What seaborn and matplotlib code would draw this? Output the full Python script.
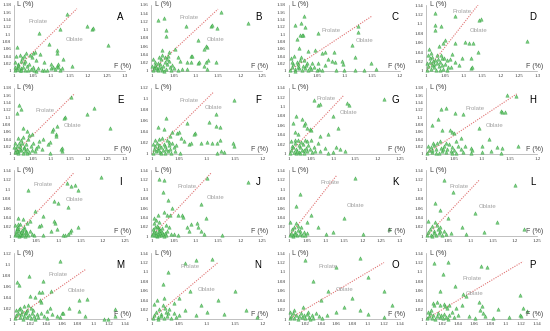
import matplotlib
matplotlib.use('Agg')
import matplotlib.pyplot as plt
import seaborn as sns
import pandas as pd
import numpy as np

sns.set_style('white')
plt.rcParams['font.family'] = ['Liberation Sans', 'DejaVu Sans']

PANELS = list('ABCDEFGHIJKLMNOP')
X_MAX = [1.3, 1.25, 1.2, 1.3, 1.3, 1.2, 1.25, 1.2, 1.25, 1.25, 1.3, 1.25, 1.14, 1.2, 1.14, 1.14]
Y_MAX = [1.18, 1.16, 1.18, 1.14, 1.18, 1.12, 1.14, 1.18, 1.14, 1.14, 1.14, 1.14, 1.12, 1.14, 1.14, 1.14]
X_STEP = [0.05, 0.05, 0.05, 0.05, 0.05, 0.05, 0.05, 0.05, 0.05, 0.05, 0.05, 0.05, 0.02, 0.05, 0.02, 0.02]
Y_STEP = 0.02
LINE_END = [1.17, 1.15, 1.15, 1.14, 1.162, 1.112, 1.124, 1.163, 1.134, 1.135, 1.13, 1.12, 1.091, 1.12, 1.12, 1.122]

PTS_A = [(1.142,1.155),(1.123,1.115),(1.198,1.123),(1.21,1.115),(1.214,1.116),(1.068,1.105),(1.095,1.075),(1.253,1.071),(1.007,1.066),(1.117,1.057),(1.116,1.048),(1.057,1.053),(1.07,1.046),(1.133,1.032),(1.082,1.025),(1.158,1.014),
(1.004,1.002),(1.008,1.005),(1.012,1.01),(1.015,1.003),(1.02,1.008),(1.025,1.012),(1.03,1.004),(1.035,1.015),(1.04,1.02),(1.045,1.006),(1.05,1.01),(1.055,1.002),(1.01,1.02),(1.018,1.028),(1.022,1.035),(1.028,1.042),(1.033,1.05),(1.042,1.045),(1.048,1.038),(1.052,1.05),(1.06,1.03),(1.006,1.04),(1.015,1.045),(1.003,1.012),(1.026,1.022),(1.038,1.003),(1.06,1.001),(1.065,1.008),(1.002,1.025),(1.012,1.016),(1.03,1.026),(1.02,1.002),
(1.09,1.003),(1.1,1.008),(1.105,1.012),(1.11,1.005),(1.115,1.015),(1.12,1.01),(1.125,1.003),(1.13,1.008),(1.075,1.004),(1.08,1.002),(1.118,1.02),(1.1,1.018)]

PTS_B = [(1.156,1.144),(1.015,1.124),(1.029,1.128),(1.032,1.099),(1.032,1.085),(1.077,1.109),(1.135,1.108),(1.137,1.112),(1.147,1.105),(1.218,1.116),(1.105,1.074),(1.124,1.061),(1.126,1.059),(1.119,1.053),(1.053,1.053),(1.025,1.051),(1.04,1.047),(1.089,1.036),(1.092,1.036),(1.059,1.035),(1.065,1.024),(1.081,1.023),(1.089,1.022),(1.104,1.02),(1.107,1.023),(1.122,1.023),(1.128,1.027),(1.145,1.023),(1.119,1.011),(1.126,1.006),(1.081,1.006),(1.07,1.004),(1.059,1.002),
(1.003,1.002),(1.006,1.008),(1.009,1.015),(1.012,1.004),(1.015,1.02),(1.018,1.01),(1.021,1.028),(1.024,1.003),(1.027,1.013),(1.03,1.033),(1.033,1.006),(1.036,1.018),(1.039,1.025),(1.004,1.03),(1.008,1.022),(1.016,1.035),(1.02,1.016),(1.025,1.04),(1.03,1.022),(1.035,1.03),(1.042,1.01),(1.045,1.003),(1.01,1.01),(1.014,1.002),(1.022,1.007),(1.028,1.001),(1.001,1.012),(1.038,1.037),(1.047,1.015),(1.05,1.008)]

PTS_C = [(1.027,1.151),(1.011,1.125),(1.022,1.132),(1.029,1.119),(1.02,1.098),(1.026,1.098),(1.023,1.097),(1.014,1.086),(1.053,1.103),(1.125,1.124),(1.124,1.107),(1.113,1.071),(1.018,1.062),(1.035,1.055),(1.047,1.057),(1.065,1.053),(1.082,1.053),(1.059,1.048),(1.119,1.037),(1.149,1.023),(1.158,1.005),(1.136,1.003),(1.119,1.003),(1.071,1.032),(1.077,1.028),(1.083,1.025),(1.095,1.028),(1.098,1.019),(1.041,1.023),(1.053,1.021),(1.065,1.016),
(1.002,1.003),(1.005,1.01),(1.008,1.018),(1.011,1.005),(1.014,1.025),(1.017,1.012),(1.02,1.03),(1.023,1.004),(1.026,1.015),(1.029,1.008),(1.032,1.022),(1.035,1.002),(1.038,1.012),(1.004,1.035),(1.01,1.04),(1.016,1.02),(1.022,1.038),(1.028,1.03),(1.04,1.005),(1.045,1.01),(1.05,1.003),(1.012,1.001),(1.019,1.008),(1.031,1.017),(1.006,1.025),(1.055,1.006),(1.085,1.003),(1.1,1.002),(1.06,1.002)]

PTS_D = [(1.025,1.122),(1.077,1.117),(1.142,1.108),(1.147,1.11),(1.025,1.098),(1.023,1.087),(1.041,1.096),(1.05,1.066),(1.045,1.059),(1.079,1.059),(1.106,1.062),(1.115,1.06),(1.126,1.059),(1.273,1.064),(1.139,1.041),(1.007,1.047),(1.034,1.052),(1.07,1.037),(1.097,1.027),(1.12,1.027),(1.079,1.02),(1.088,1.013),(1.057,1.023),(1.12,1.006),(1.124,1.009),(1.068,1.009),
(1.003,1.002),(1.006,1.01),(1.01,1.02),(1.013,1.005),(1.016,1.03),(1.02,1.014),(1.024,1.024),(1.027,1.003),(1.03,1.033),(1.034,1.01),(1.038,1.02),(1.042,1.028),(1.046,1.005),(1.05,1.015),(1.055,1.002),(1.005,1.035),(1.012,1.038),(1.018,1.022),(1.022,1.008),(1.028,1.016),(1.032,1.026),(1.036,1.002),(1.04,1.035),(1.044,1.012),(1.048,1.028),(1.06,1.008),(1.002,1.018),(1.009,1.028),(1.015,1.013),(1.065,1.025)]

PTS_E = [(1.154,1.155),(1.014,1.132),(1.018,1.121),(1.009,1.112),(1.216,1.125),(1.198,1.109),(1.139,1.1),(1.136,1.097),(1.259,1.071),(1.115,1.075),(1.106,1.066),(1.104,1.062),(1.114,1.053),(1.113,1.048),(1.023,1.069),(1.034,1.062),(1.048,1.053),(1.041,1.05),(1.079,1.039),(1.068,1.035),(1.097,1.032),(1.093,1.027),(1.066,1.021),(1.077,1.014),(1.097,1.003),(1.129,1.016),(1.131,1.007),(1.127,1.012),
(1.002,1.004),(1.005,1.012),(1.008,1.02),(1.011,1.006),(1.014,1.028),(1.017,1.014),(1.02,1.036),(1.023,1.002),(1.026,1.018),(1.029,1.008),(1.032,1.026),(1.035,1.012),(1.038,1.04),(1.041,1.004),(1.045,1.022),(1.004,1.03),(1.01,1.042),(1.016,1.022),(1.022,1.03),(1.028,1.016),(1.034,1.002),(1.048,1.01),(1.052,1.028),(1.056,1.006),(1.012,1.001),(1.019,1.009),(1.025,1.045),(1.06,1.016),(1.001,1.018),(1.007,1.008)]

PTS_F = [(1.149,1.098),(1.116,1.072),(1.104,1.058),(1.116,1.05),(1.123,1.048),(1.026,1.065),(1.064,1.055),(1.012,1.048),(1.022,1.044),(1.038,1.039),(1.046,1.038),(1.05,1.039),(1.078,1.038),(1.076,1.035),(1.034,1.032),(1.053,1.029),(1.059,1.023),(1.068,1.017),(1.071,1.02),(1.089,1.02),(1.101,1.021),(1.11,1.019),(1.119,1.02),(1.124,1.025),(1.147,1.02),(1.149,1.014),(1.125,1.005),(1.13,1.003),(1.118,1.002),(1.052,1.002),
(1.002,1.002),(1.004,1.008),(1.006,1.014),(1.008,1.004),(1.01,1.02),(1.012,1.01),(1.014,1.026),(1.016,1.003),(1.018,1.012),(1.02,1.006),(1.022,1.018),(1.024,1.001),(1.026,1.009),(1.028,1.024),(1.03,1.004),(1.032,1.015),(1.034,1.008),(1.036,1.002),(1.038,1.02),(1.04,1.012),(1.003,1.018),(1.007,1.024),(1.013,1.016),(1.019,1.028),(1.025,1.014),(1.031,1.022),(1.042,1.005),(1.045,1.016),(1.011,1.006),(1.017,1.001)]

PTS_G = [(1.214,1.117),(1.056,1.114),(1.066,1.103),(1.071,1.105),(1.13,1.107),(1.135,1.103),(1.1,1.08),(1.111,1.055),(1.017,1.08),(1.01,1.066),(1.029,1.073),(1.036,1.066),(1.035,1.06),(1.04,1.055),(1.047,1.053),(1.05,1.05),(1.014,1.045),(1.021,1.041),(1.089,1.041),(1.071,1.037),(1.036,1.03),(1.051,1.029),(1.065,1.023),(1.081,1.013),(1.107,1.015),(1.115,1.009),(1.126,1.006),(1.1,1.004),(1.089,1.002),
(1.002,1.002),(1.005,1.008),(1.008,1.016),(1.011,1.004),(1.014,1.022),(1.017,1.01),(1.02,1.028),(1.023,1.003),(1.026,1.014),(1.029,1.007),(1.032,1.02),(1.035,1.001),(1.038,1.012),(1.041,1.005),(1.044,1.018),(1.047,1.009),(1.004,1.026),(1.01,1.014),(1.016,1.002),(1.022,1.018),(1.028,1.024),(1.034,1.008),(1.04,1.026),(1.052,1.003),(1.056,1.014),(1.06,1.006),(1.013,1.03),(1.019,1.006),(1.025,1.001),(1.07,1.005)]

PTS_H = [(1.145,1.16),(1.162,1.157),(1.036,1.125),(1.026,1.121),(1.052,1.112),(1.066,1.109),(1.134,1.116),(1.137,1.115),(1.142,1.114),(1.022,1.094),(1.01,1.078),(1.095,1.069),(1.028,1.065),(1.042,1.065),(1.047,1.06),(1.05,1.057),(1.062,1.044),(1.053,1.035),(1.113,1.039),(1.166,1.021),(1.137,1.016),(1.128,1.018),(1.101,1.021),(1.08,1.016),(1.083,1.01),(1.116,1.007),(1.134,1.003),(1.101,1.005),(1.08,1.003),
(1.002,1.003),(1.005,1.01),(1.008,1.018),(1.011,1.005),(1.014,1.024),(1.017,1.012),(1.02,1.028),(1.023,1.002),(1.026,1.016),(1.029,1.008),(1.032,1.022),(1.035,1.004),(1.038,1.014),(1.041,1.026),(1.044,1.006),(1.047,1.018),(1.05,1.01),(1.054,1.002),(1.058,1.022),(1.004,1.02),(1.012,1.03),(1.018,1.002),(1.024,1.034),(1.03,1.014),(1.036,1.03),(1.046,1.001),(1.062,1.012),(1.066,1.004),(1.07,1.02),(1.01,1.009)]

PTS_I = [(1.195,1.126),(1.119,1.114),(1.128,1.107),(1.137,1.108),(1.145,1.099),(1.031,1.098),(1.09,1.076),(1.1,1.071),(1.122,1.062),(1.047,1.053),(1.066,1.044),(1.01,1.039),(1.021,1.036),(1.036,1.032),(1.029,1.029),(1.089,1.032),(1.092,1.029),(1.056,1.023),(1.06,1.025),(1.145,1.021),(1.096,1.016),(1.084,1.011),(1.128,1.013),(1.126,1.009),(1.122,1.006),(1.111,1.004),(1.115,1.002),(1.066,1.002),(1.044,1.004),
(1.002,1.002),(1.004,1.008),(1.006,1.015),(1.008,1.004),(1.01,1.02),(1.012,1.011),(1.014,1.026),(1.016,1.003),(1.018,1.014),(1.02,1.007),(1.022,1.02),(1.024,1.001),(1.026,1.012),(1.028,1.005),(1.003,1.024),(1.007,1.018),(1.011,1.001),(1.015,1.009),(1.019,1.002),(1.023,1.016),(1.027,1.01),(1.032,1.002),(1.036,1.012),(1.04,1.006),(1.005,1.012),(1.009,1.027),(1.013,1.006)]

PTS_J = [(1.017,1.121),(1.029,1.119),(1.125,1.124),(1.218,1.115),(1.027,1.095),(1.038,1.078),(1.047,1.06),(1.111,1.069),(1.122,1.04),(1.006,1.04),(1.01,1.034),(1.036,1.045),(1.041,1.045),(1.059,1.046),(1.068,1.045),(1.072,1.042),(1.014,1.045),(1.029,1.052),(1.089,1.027),(1.102,1.029),(1.081,1.021),(1.085,1.011),(1.104,1.019),(1.111,1.011),(1.119,1.006),(1.158,1.004),(1.051,1.006),(1.059,1.002),(1.014,1.02),(1.016,1.016),(1.012,1.023),
(1.002,1.002),(1.004,1.007),(1.006,1.012),(1.008,1.003),(1.01,1.009),(1.012,1.001),(1.014,1.006),(1.016,1.011),(1.018,1.004),(1.02,1.008),(1.022,1.002),(1.024,1.01),(1.026,1.005),(1.028,1.001),(1.03,1.008),(1.003,1.015),(1.007,1.02),(1.011,1.004),(1.02,1.014),(1.025,1.018),(1.032,1.003),(1.036,1.012),(1.04,1.02),(1.045,1.005),(1.005,1.028),(1.018,1.03),(1.034,1.025)]

PTS_K = [(1.178,1.123),(1.03,1.09),(1.02,1.065),(1.15,1.04),(1.27,1.015),(1.08,1.02),(1.12,1.01),(1.05,1.03),(1.1,1.005),(1.2,1.005),(1.06,1.045),
(1.002,1.002),(1.005,1.008),(1.008,1.015),(1.011,1.004),(1.014,1.02),(1.017,1.01),(1.02,1.028),(1.023,1.003),(1.026,1.014),(1.029,1.006),(1.032,1.02),(1.035,1.002),(1.04,1.01),(1.045,1.004),(1.004,1.03),(1.012,1.001),(1.018,1.006),(1.024,1.022),(1.03,1.012),(1.05,1.008)]

PTS_L = [(1.04,1.12),(1.06,1.095),(1.2,1.11),(1.02,1.07),(1.11,1.05),(1.16,1.03),(1.08,1.02),(1.13,1.01),(1.05,1.04),(1.09,1.005),(1.22,1.015),(1.03,1.055),
(1.002,1.002),(1.005,1.009),(1.008,1.016),(1.011,1.004),(1.014,1.022),(1.017,1.011),(1.02,1.03),(1.023,1.002),(1.026,1.015),(1.029,1.007),(1.032,1.021),(1.035,1.003),(1.04,1.012),(1.045,1.005),(1.004,1.032),(1.012,1.001),(1.018,1.007),(1.024,1.024),(1.03,1.012),(1.055,1.008)]

PTS_M = [(1.058,1.105),(1.019,1.078),(1.036,1.07),(1.004,1.067),(1.006,1.062),(1.031,1.05),(1.035,1.05),(1.047,1.052),(1.026,1.041),(1.02,1.042),(1.033,1.034),(1.034,1.032),(1.082,1.035),(1.092,1.036),(1.069,1.021),(1.082,1.014),(1.089,1.005),(1.127,1.018),(1.127,1.006),(1.113,1.001),(1.119,1.001),(1.06,1.011),(1.062,1.012),(1.058,1.003),(1.054,1.005),(1.045,1.021),(1.041,1.014),(1.008,1.02),(1.012,1.023),(1.016,1.017),(1.01,1.014),(1.014,1.011),(1.022,1.02),
(1.001,1.002),(1.003,1.007),(1.005,1.012),(1.007,1.003),(1.009,1.009),(1.011,1.001),(1.013,1.006),(1.015,1.013),(1.017,1.004),(1.019,1.008),(1.021,1.002),(1.023,1.011),(1.025,1.005),(1.027,1.001),(1.029,1.009),(1.002,1.016),(1.006,1.019),(1.018,1.026),(1.024,1.016),(1.03,1.003),(1.034,1.012),(1.038,1.006),(1.042,1.002),(1.048,1.009)]

PTS_N = [(1.06,1.12),(1.08,1.125),(1.11,1.128),(1.03,1.1),(1.02,1.075),(1.07,1.06),(1.15,1.06),(1.12,1.04),(1.17,1.02),(1.05,1.045),(1.09,1.03),(1.1,1.015),(1.13,1.01),(1.04,1.035),(1.19,1.005),(1.06,1.02),(1.08,1.008),
(1.002,1.002),(1.005,1.009),(1.008,1.016),(1.011,1.004),(1.014,1.022),(1.017,1.011),(1.02,1.03),(1.023,1.002),(1.026,1.015),(1.029,1.007),(1.032,1.021),(1.035,1.003),(1.04,1.012),(1.045,1.005),(1.004,1.032),(1.012,1.001),(1.018,1.007),(1.024,1.024),(1.03,1.012),(1.05,1.008),(1.01,1.04),(1.022,1.045)]

PTS_O = [(1.02,1.125),(1.09,1.13),(1.06,1.11),(1.1,1.09),(1.12,1.06),(1.03,1.08),(1.05,1.06),(1.08,1.045),(1.13,1.03),(1.07,1.025),(1.1,1.01),(1.12,1.005),(1.04,1.04),(1.06,1.015),(1.09,1.02),
(1.001,1.002),(1.003,1.007),(1.005,1.012),(1.007,1.003),(1.009,1.009),(1.011,1.001),(1.013,1.006),(1.015,1.013),(1.017,1.004),(1.019,1.008),(1.021,1.002),(1.023,1.011),(1.025,1.005),(1.027,1.001),(1.029,1.009),(1.002,1.016),(1.006,1.02),(1.018,1.026),(1.024,1.016),(1.03,1.003),(1.034,1.012),(1.038,1.006),(1.042,1.002),(1.048,1.009)]

PTS_P = [(1.01,1.119),(1.028,1.122),(1.021,1.096),(1.069,1.112),(1.077,1.11),(1.036,1.071),(1.018,1.059),(1.046,1.054),(1.05,1.048),(1.066,1.037),(1.118,1.051),(1.008,1.034),(1.01,1.03),(1.014,1.037),(1.018,1.029),(1.022,1.032),(1.024,1.027),(1.029,1.03),(1.026,1.023),(1.045,1.029),(1.037,1.023),(1.071,1.027),(1.068,1.02),(1.072,1.013),(1.074,1.006),(1.091,1.021),(1.062,1.002),(1.054,1.006),(1.084,1.002),(1.104,1.004),(1.122,1.023),(1.127,1.018),(1.118,1.009),(1.12,1.006),
(1.001,1.002),(1.003,1.007),(1.005,1.012),(1.007,1.003),(1.009,1.009),(1.011,1.001),(1.013,1.006),(1.015,1.013),(1.017,1.004),(1.019,1.008),(1.021,1.002),(1.023,1.011),(1.025,1.005),(1.027,1.001),(1.029,1.009),(1.002,1.016),(1.006,1.02),(1.032,1.014),(1.035,1.004),(1.04,1.009)]

ALL_PTS = [PTS_A, PTS_B, PTS_C, PTS_D, PTS_E, PTS_F, PTS_G, PTS_H,
           PTS_I, PTS_J, PTS_K, PTS_L, PTS_M, PTS_N, PTS_O, PTS_P]

# label positions (axes fraction)
PROLATE_POS = [(0.22,0.75),(0.34,0.81),(0.38,0.62),(0.32,0.90),(0.28,0.66),(0.34,0.81),(0.34,0.83),(0.44,0.68),
               (0.26,0.79),(0.32,0.76),(0.37,0.82),(0.30,0.75),(0.40,0.67),(0.35,0.80),(0.35,0.80),(0.41,0.61)]
OBLATE_POS = [(0.55,0.48),(0.58,0.48),(0.68,0.46),(0.47,0.62),(0.53,0.43),(0.56,0.70),(0.54,0.63),(0.62,0.43),
              (0.55,0.56),(0.58,0.59),(0.60,0.47),(0.55,0.45),(0.56,0.43),(0.50,0.45),(0.50,0.45),(0.44,0.39)]

rows = []
for p, pts in zip(PANELS, ALL_PTS):
    for f, l in pts:
        rows.append((p, f, l))
df = pd.DataFrame(rows, columns=['panel', 'F', 'L'])

W, H = 550, 331
fig = plt.figure(figsize=(W / 100, H / 100), dpi=100)

AX_GRAY = '#a6a6a6'
TXT_GRAY = '#a0a0a0'
for i, p in enumerate(PANELS):
    r, c = divmod(i, 4)
    left_px = c * 137.4 + 14
    xaxis_px = r * 82.7 + 71
    ax = fig.add_axes([left_px / W, 1 - xaxis_px / H, 111 / W, 66 / H])
    ax.set_facecolor('none')
    sub = df[df.panel == p]
    le = LINE_END[i]
    ax.plot([1, le], [1, le], color='#e07070', lw=0.8, ls=(0, (1, 1.2)), zorder=1)
    sns.scatterplot(data=sub, x='F', y='L', ax=ax, marker='^', s=6,
                    color='#62c466', edgecolor='#2f9e3f', linewidth=0.3,
                    alpha=0.85, zorder=3, clip_on=False, legend=False)
    ax.set_xlim(1, X_MAX[i])
    ax.set_ylim(1, Y_MAX[i])
    xt = np.round(np.arange(1, X_MAX[i] + 1e-9, X_STEP[i]), 3)
    yt = np.round(np.arange(1, Y_MAX[i] + 1e-9, Y_STEP), 3)
    ax.set_xticks(xt)
    ax.set_yticks(yt)
    ax.set_xticklabels(['%g' % v for v in xt], fontsize=3.6, family='Liberation Serif', color='#333333')
    ax.set_yticklabels(['%g' % v for v in yt], fontsize=3.6, family='Liberation Serif', color='#333333')
    ax.tick_params(axis='both', length=1.2, width=0.4, color=AX_GRAY, pad=1)
    ax.set_xlabel('')
    ax.set_ylabel('')
    for s in ['top', 'right']:
        ax.spines[s].set_visible(False)
    for s in ['left', 'bottom']:
        ax.spines[s].set_color(AX_GRAY)
        ax.spines[s].set_linewidth(0.5)
    ax.text(0.03, 1.0, 'L (%)', transform=ax.transAxes, fontsize=5, ha='left', va='center', color='#444444')
    ax.text(0.975, 0.07, 'F (%)', transform=ax.transAxes, fontsize=5, ha='center', va='center', color='#444444')
    ax.text(0.96, 0.82, p, transform=ax.transAxes, fontsize=7, ha='center', va='center', color='black')
    px_, py_ = PROLATE_POS[i]
    ox_, oy_ = OBLATE_POS[i]
    ax.text(px_, py_, 'Prolate', transform=ax.transAxes, fontsize=4.3, ha='center', va='center', color=TXT_GRAY)
    ax.text(ox_, oy_, 'Oblate', transform=ax.transAxes, fontsize=4.3, ha='center', va='center', color=TXT_GRAY)

fig.savefig('out.png', dpi=100, facecolor='white')
